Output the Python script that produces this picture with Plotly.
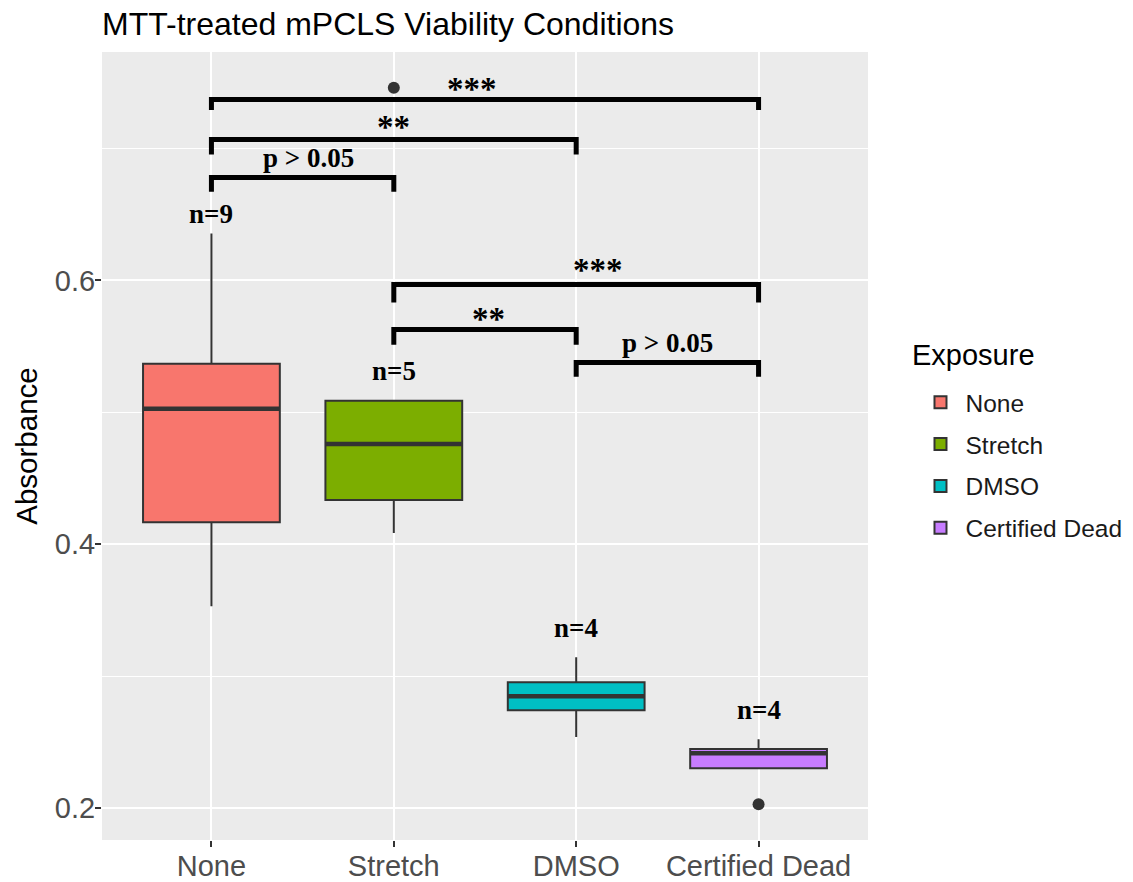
import plotly.graph_objects as go

# ---- data ----
categories = ["None", "Stretch", "DMSO", "Certified Dead"]
colors = ["#F8766D", "#7CAE00", "#00BFC4", "#C77CFF"]
lower_whisker = [0.353, 0.4085, 0.254, 0.2303]
q1 = [0.4168, 0.4335, 0.2743, 0.2303]
median = [0.5027, 0.476, 0.2849, 0.2417]
q3 = [0.5369, 0.5088, 0.2955, 0.245]
upper_whisker = [0.6354, 0.5088, 0.3145, 0.2523]
outlier_cat = [1, 3]
outlier_val = [0.746, 0.203]
n_labels = ["n=9", "n=5", "n=4", "n=4"]
n_label_y = [0.650, 0.5315, 0.3367, 0.2745]

# significance brackets: (from category index, to category index)
bracket_from = [0, 0, 0, 1, 1, 2]
bracket_to = [3, 2, 1, 3, 2, 3]
bracket_top = [0.737, 0.7067, 0.6779, 0.5968, 0.5627, 0.5377]
bracket_bottom = [0.729, 0.6953, 0.6672, 0.5832, 0.5513, 0.527]
bracket_label = ["***", "**", "p > 0.05", "***", "**", "p > 0.05"]
bracket_label_x = [1.43, 1.0, 0.53, 2.12, 1.52, 2.5]
bracket_label_y = [0.7476, 0.7188, 0.693, 0.6104, 0.5733, 0.5528]

# page body has an 8px margin; the figure is sized to fit the window
W, H = 1125, 874

fig = go.Figure()

for i, cat in enumerate(categories):
    fig.add_trace(go.Box(
        name=cat,
        x=[i],
        q1=[q1[i]], median=[median[i]], q3=[q3[i]],
        lowerfence=[lower_whisker[i]], upperfence=[upper_whisker[i]],
        fillcolor=colors[i],
        line=dict(color="#333333", width=2),
        whiskerwidth=0,
        width=0.75,
        boxpoints=False,
        legendgroup=cat,
        hoverinfo="skip",
    ))

# outliers
fig.add_trace(go.Scatter(
    x=outlier_cat, y=outlier_val, mode="markers",
    marker=dict(color="#333333", size=12),
    showlegend=False, hoverinfo="skip",
))

shapes = []
# thicker median lines (ggplot style)
for i, m in enumerate(median):
    shapes.append(dict(type="line", xref="x", yref="y",
                       x0=i - 0.375, x1=i + 0.375, y0=m, y1=m,
                       line=dict(color="#333333", width=4.5), layer="above"))
# brackets
for a, b, yt, yb in zip(bracket_from, bracket_to, bracket_top, bracket_bottom):
    shapes.append(dict(type="path", xref="x", yref="y",
                       path=f"M {a},{yb} L {a},{yt} L {b},{yt} L {b},{yb}",
                       line=dict(color="black", width=5), layer="above"))

annotations = []
for lab, lx, ly in zip(bracket_label, bracket_label_x, bracket_label_y):
    is_star = lab.startswith("*")
    annotations.append(dict(x=lx, y=ly, xref="x", yref="y", text=f"<b>{lab}</b>",
                            showarrow=False, yanchor="middle",
                            yshift=-3 if is_star else 0,
                            font=dict(family="Liberation Serif", size=33 if is_star else 27,
                                      color="black")))
for i, (lab, ly) in enumerate(zip(n_labels, n_label_y)):
    annotations.append(dict(x=i, y=ly, xref="x", yref="y", text=f"<b>{lab}</b>",
                            showarrow=False, yanchor="middle",
                            font=dict(family="Liberation Serif", size=27, color="black")))
# legend title
annotations.append(dict(x=1.055, y=0.6155, xref="paper", yref="paper", text="Exposure",
                        showarrow=False, xanchor="left", yanchor="middle",
                        font=dict(family="Liberation Sans", size=29, color="black")))

fig.update_layout(
    width=W, height=H,
    margin=dict(l=94, r=265, t=44, b=42, autoexpand=False),
    paper_bgcolor="white",
    plot_bgcolor="#EBEBEB",
    boxmode="overlay",
    font=dict(family="Liberation Sans", color="#4D4D4D"),
    title=dict(text="MTT-treated mPCLS Viability Conditions",
               x=94 / W, xanchor="left", xref="container",
               y=1 - 16 / H, yanchor="middle", yref="container",
               pad=dict(l=0, r=0, t=0, b=0),
               font=dict(family="Liberation Sans", size=32, color="black")),
    xaxis=dict(
        range=[-0.6, 3.6],
        tickvals=list(range(len(categories))),
        ticktext=categories,
        showgrid=True, gridcolor="white", gridwidth=1.6,
        zeroline=False, automargin=False,
        ticks="outside", ticklen=6, tickcolor="#333333", tickwidth=1.5,
        ticklabelstandoff=-6,
        tickfont=dict(size=29, color="#4D4D4D"),
    ),
    yaxis=dict(
        range=[0.176, 0.773],
        tick0=0.2, dtick=0.2, tickformat=".1f",
        showgrid=True, gridcolor="white", gridwidth=1.6,
        minor=dict(tick0=0.1, dtick=0.1, showgrid=True, gridcolor="white", gridwidth=0.8),
        zeroline=False, automargin=False,
        ticks="outside", ticklen=6, tickcolor="#333333", tickwidth=1.5,
        ticklabelstandoff=-6,
        tickfont=dict(size=29, color="#4D4D4D"),
        title=dict(text="Absorbance", standoff=8,
                   font=dict(size=29.5, color="black")),
    ),
    legend=dict(
        font=dict(size=24.5, color="#1A1A1A"),
        x=1.062, xanchor="left", y=0.584, yanchor="top",
        bgcolor="rgba(0,0,0,0)",
        tracegroupgap=7,
        itemwidth=40,
    ),
    shapes=shapes,
    annotations=annotations,
)

fig.write_html("out.html")
